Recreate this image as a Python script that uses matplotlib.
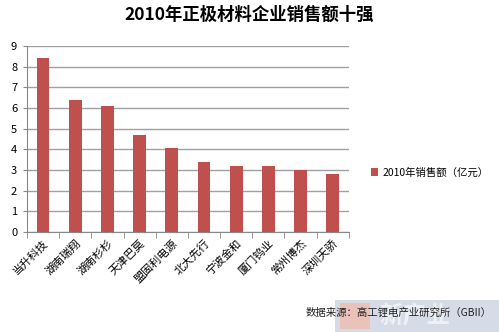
import matplotlib.pyplot as plt
from matplotlib.ticker import FixedLocator
from matplotlib.patches import Rectangle

plt.rcParams['font.family'] = ['Noto Sans CJK SC', 'DejaVu Sans']

companies = ["当升科技", "湖南瑞翔", "湖南杉杉", "天津巴莫", "盟固利电源",
             "北大先行", "宁波金和", "厦门钨业", "常州博杰", "深圳天骄"]
sales = [8.45, 6.4, 6.08, 4.71, 4.07, 3.38, 3.2, 3.2, 3.0, 2.8]
yticks = list(range(0, 10))

fig = plt.figure(figsize=(4.99, 3.32), dpi=100)
ax = fig.add_axes([0.054, 0.301, 0.645, 0.56])

x = range(len(companies))
ax.bar(x, sales, width=0.4, color="#C0504D", label="2010年销售额（亿元）", zorder=3)

ax.set_xlim(-0.5, len(companies) - 0.5)
ax.set_ylim(0, 9)
ax.set_yticks(yticks)
ax.yaxis.grid(True, color="#A0A0A0", linewidth=1.0, zorder=0)
ax.tick_params(axis="y", labelsize=8, length=3, color="#888888", pad=4)

ax.set_xticks(list(x))
ax.set_xticklabels(companies, rotation=45, ha="right", rotation_mode="anchor",
                   fontsize=8)
ax.tick_params(axis="x", length=0, pad=4)
ax.xaxis.set_minor_locator(FixedLocator([i - 0.5 for i in range(len(companies) + 1)]))
ax.tick_params(axis="x", which="minor", length=4, color="#888888")

for s in ["top", "right"]:
    ax.spines[s].set_visible(False)
for s in ["left", "bottom"]:
    ax.spines[s].set_color("#888888")

fig.text(0.5, 0.955, "2010年正极材料企业销售额十强", ha="center", va="center",
         fontsize=12.5, fontweight="bold")

fig.legend(loc="center left", bbox_to_anchor=(0.725, 0.48), frameon=False,
           fontsize=7.5, handlelength=0.7, handleheight=0.7, handletextpad=0.4)

# watermark logo in the bottom-right corner
fig.patches.append(Rectangle((0.672, 0.0), 0.328, 0.095, transform=fig.transFigure,
                             facecolor="#B9C6D8", edgecolor="none", alpha=0.6, zorder=0))
fig.patches.append(Rectangle((0.682, 0.008), 0.06, 0.08, transform=fig.transFigure,
                             facecolor="#F2B8A8", edgecolor="none", alpha=0.7, zorder=0))
fig.text(0.76, 0.048, "新产业", ha="left", va="center", fontsize=17,
         color="#EEF2F7", fontweight="bold", zorder=0)
fig.text(0.985, 0.057, "数据来源：高工锂电产业研究所（GBII）", ha="right", va="center",
         fontsize=7.5, color="#222222", zorder=5)

fig.savefig("out.png", dpi=100)
